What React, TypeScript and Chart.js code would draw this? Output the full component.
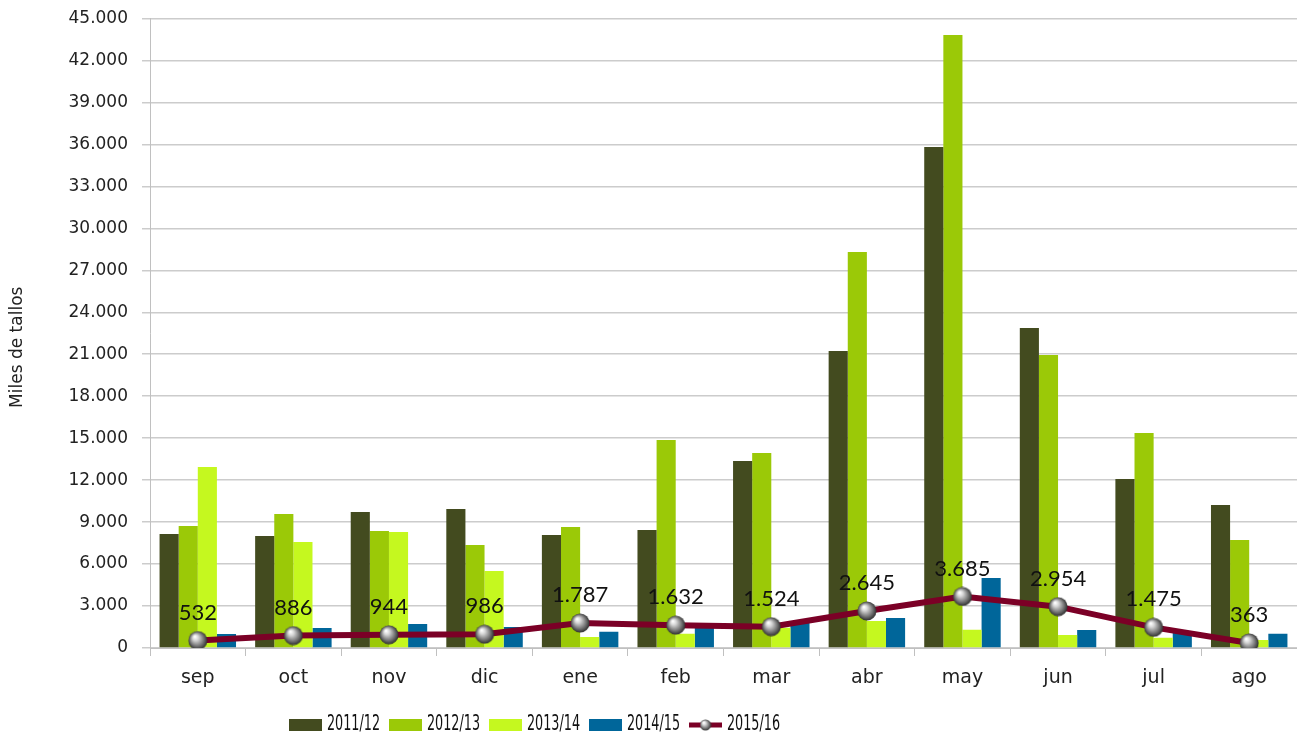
import React, { useEffect, useRef } from "react";
import { Chart, registerables } from "chart.js";

Chart.register(...registerables);

const categories = ["sep", "oct", "nov", "dic", "ene", "feb", "mar", "abr", "may", "jun", "jul", "ago"];
const seriesNames = ["2011/12", "2012/13", "2013/14", "2014/15", "2015/16"];
const s2011 = [8150, 8010, 9720, 9940, 8080, 8440, 13370, 21230, 35810, 22880, 12080, 10220];
const s2012 = [8720, 9580, 8360, 7360, 8650, 14870, 13940, 28310, 43820, 20950, 15370, 7720];
const s2013 = [12940, 7580, 8290, 5500, 790, 1020, 1450, 1930, 1310, 930, 740, 570];
const s2014 = [1000, 1430, 1720, 1500, 1170, 1450, 1790, 2150, 5010, 1290, 1100, 1020];
const s2015 = [532, 886, 944, 986, 1787, 1632, 1524, 2645, 3685, 2954, 1475, 363];
const barColors = ["#434B1F", "#9BC907", "#C5F81F", "#00669A"];
const lineColor = "#7B0026";
const axisTitle = "Miles de tallos";

const FONT = "Lato, 'DejaVu Sans', sans-serif";
const WIDE = "'DejaVu Sans', sans-serif";
const NARROW = "'Liberation Sans Narrow', 'DejaVu Sans Condensed', 'DejaVu Sans', sans-serif";

function fmt(v: number): string {
  const s = Math.round(v).toString();
  return s.replace(/\B(?=(\d{3})+(?!\d))/g, ".");
}

function makeSphere(size: number): HTMLCanvasElement {
  const c = document.createElement("canvas");
  c.width = size;
  c.height = size;
  const ctx = c.getContext("2d")!;
  const r = size / 2;
  const g = ctx.createRadialGradient(r * 0.7, r * 0.6, 0.5, r, r, r);
  g.addColorStop(0, "#ffffff");
  g.addColorStop(0.25, "#d6d6d6");
  g.addColorStop(0.65, "#7a7a7a");
  g.addColorStop(1, "#262626");
  ctx.fillStyle = g;
  ctx.beginPath();
  ctx.arc(r, r, r - 0.5, 0, Math.PI * 2);
  ctx.fill();
  return c;
}

export default function App() {
  const ref = useRef<HTMLCanvasElement | null>(null);

  useEffect(() => {
    if (!ref.current) return;
    const sphere = makeSphere(20);
    const smallSphere = makeSphere(12);

    const labelPlugin = {
      id: "lineLabels",
      afterDatasetsDraw(chart: any) {
        const ctx = chart.ctx;
        const meta = chart.getDatasetMeta(4);
        ctx.save();
        ctx.font = `22px ${FONT}`;
        ctx.fillStyle = "#111111";
        ctx.textAlign = "center";
        ctx.textBaseline = "middle";
        meta.data.forEach((pt: any, i: number) => {
          ctx.fillText(fmt(s2015[i]), pt.x, pt.y - 28);
        });
        ctx.restore();
      },
    };

    const legendPlugin = {
      id: "customLegend",
      afterDraw(chart: any) {
        const ctx = chart.ctx;
        ctx.save();
        const ca = chart.chartArea;
        ctx.translate(18, (ca.top + ca.bottom) / 2 + 14);
        ctx.rotate(-Math.PI / 2);
        ctx.font = `17px ${WIDE}`;
        ctx.fillStyle = "#222222";
        ctx.textAlign = "center";
        ctx.textBaseline = "middle";
        ctx.fillText(axisTitle, 0, 0);
        ctx.restore();

        ctx.save();
        const y = 725;
        let x = 289;
        ctx.font = `21px ${NARROW}`;
        ctx.textBaseline = "middle";
        ctx.textAlign = "left";
        seriesNames.forEach((name, i) => {
          if (i < 4) {
            ctx.fillStyle = barColors[i];
            ctx.fillRect(x, y - 6, 33, 12);
          } else {
            ctx.strokeStyle = lineColor;
            ctx.lineWidth = 5;
            ctx.beginPath();
            ctx.moveTo(x, y);
            ctx.lineTo(x + 33, y);
            ctx.stroke();
            ctx.drawImage(smallSphere, x + 16.5 - 6, y - 6);
          }
          ctx.fillStyle = "#111111";
          ctx.fillText(name, x + 38, y, 53);
          x += 100;
        });
        ctx.restore();
      },
    };

    const barDs = [s2011, s2012, s2013, s2014].map((d, i) => ({
      type: "bar" as const,
      label: seriesNames[i],
      data: d,
      backgroundColor: barColors[i],
      borderWidth: 0,
      categoryPercentage: 0.8,
      barPercentage: 1.0,
      order: 1,
    }));

    const chart = new Chart(ref.current, {
      type: "bar",
      data: {
        labels: categories,
        datasets: [
          ...barDs,
          {
            type: "line" as const,
            label: seriesNames[4],
            data: s2015,
            borderColor: lineColor,
            backgroundColor: lineColor,
            borderWidth: 6,
            tension: 0,
            pointStyle: sphere as any,
            pointRadius: 10,
            order: 0,
          } as any,
        ],
      },
      options: {
        animation: false,
        responsive: true,
        maintainAspectRatio: false,
        layout: { autoPadding: false, padding: { top: 18.5, right: 0, bottom: 0, left: 0 } },
        plugins: {
          legend: { display: false },
          tooltip: { enabled: false },
        },
        scales: {
          x: {
            offset: true,
            grid: {
              offset: true,
              drawOnChartArea: false,
              drawTicks: true,
              tickLength: 8,
              color: "#c0c0c0",
            },
            border: { color: "#c0c0c0", width: 1 },
            ticks: {
              color: "#222222",
              font: { family: WIDE, size: 19 },
              padding: 11,
            },
            afterFit(scale: any) {
              scale.height = 87;
              scale.paddingRight = 0;
              scale.paddingLeft = 0;
            },
          },
          y: {
            min: 0,
            max: 45000,
            grid: {
              color: "#cccccc",
              lineWidth: 1.5,
              tickLength: 8,
              drawTicks: true,
            },
            border: { color: "#c0c0c0", width: 1 },
            ticks: {
              stepSize: 3000,
              color: "#222222",
              font: { family: WIDE, size: 17 },
              padding: 14,
              callback: (v: any) => fmt(Number(v)),
            },
            afterFit(scale: any) {
              scale.width = 150;
              scale.paddingTop = 0;
              scale.paddingBottom = 0;
            },
          },
        },
      },
      plugins: [labelPlugin, legendPlugin],
    });
    return () => chart.destroy();
  }, []);

  return (
    <div style={{ position: "fixed", left: 0, top: 0, width: 1297, height: 735, background: "#ffffff" }}>
      <canvas ref={ref} />
    </div>
  );
}
